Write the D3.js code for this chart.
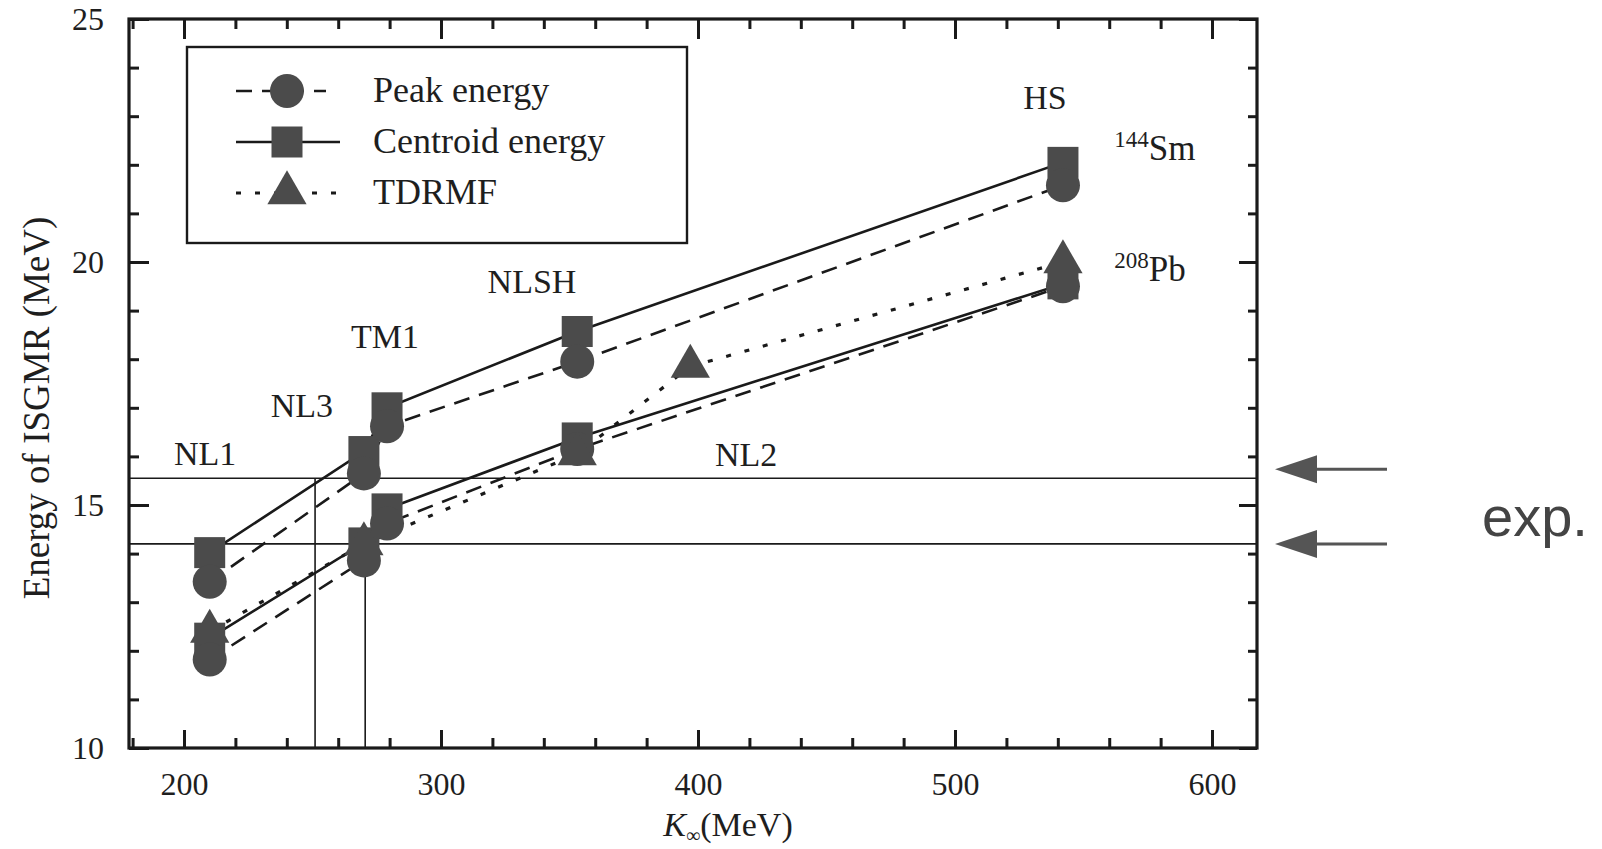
<!DOCTYPE html>
<html>
<head>
<meta charset="utf-8">
<script src="https://cdn.jsdelivr.net/npm/d3@7"></script>
<style>
  body { margin: 0; background: #fff; }
  text { font-family: "Liberation Serif", "DejaVu Serif", serif; fill: #1e1e1e; }
</style>
</head>
<body>
<div id="chart"></div>
<script>
// Incompressibility K (MeV) of the parameter sets
var models = ["NL1", "NL3", "TM1", "NLSH", "HS"];
var modelK = [210, 270, 279, 353, 542];

// 144Sm energies (MeV)
var smCentroid = [14.02, 16.1, 17.0, 18.57, 22.05];
var smPeak = [13.42, 15.65, 16.62, 17.95, 21.58];

// 208Pb energies (MeV)
var pbCentroid = [12.26, 14.22, 14.92, 16.38, 19.55];
var pbPeak = [11.82, 13.86, 14.62, 16.15, 19.5];

// TDRMF results for 208Pb
var tdModels = ["NL1", "NL3", "NLSH", "NL2", "HS"];
var tdK = [210, 270, 353, 397, 542];
var tdEnergy = [12.4, 14.2, 16.05, 17.85, 20.0];

// Experimental energies and the K where the centroid lines meet them
var expEnergy = [15.55, 14.2];
var expK = [251, 270.5];

// Tick values
var xMajor = [200, 300, 400, 500, 600];
var yMajor = [10, 15, 20, 25];

// SVG size
var svgWidth = 1602;
var svgHeight = 849;

// Plot frame
var frame = { left: 129, right: 1257, top: 19, bottom: 748 };

var svg = d3.select("#chart")
  .append("svg")
  .attr("width", svgWidth)
  .attr("height", svgHeight);

// Scales
var x = d3.scaleLinear().domain([178.6, 617.5]).range([frame.left, frame.right]);
var y = d3.scaleLinear().domain([10, 25]).range([frame.bottom, frame.top]);

var xMinor = d3.range(180, 620, 20).filter(v => xMajor.indexOf(v) < 0);
var yMinor = d3.range(10, 26, 1).filter(v => yMajor.indexOf(v) < 0);

var ink = "#1a1a1a";
var markFill = "#4b4b4b";

// Axes with inward ticks on all four sides
function styleAxis(g) {
  g.select(".domain").remove();
  g.selectAll("line").attr("stroke", ink).attr("stroke-width", 3);
  g.selectAll("text")
    .style("font-family", "'Liberation Serif', serif")
    .style("font-size", "32px")
    .attr("fill", ink);
}

svg.append("g")
  .attr("transform", `translate(0, ${frame.bottom})`)
  .call(d3.axisBottom(x).tickValues(xMajor).tickSize(-18).tickPadding(24))
  .call(styleAxis);
svg.append("g")
  .attr("transform", `translate(0, ${frame.bottom})`)
  .call(d3.axisBottom(x).tickValues(xMinor).tickSize(-10).tickFormat(""))
  .call(styleAxis);
svg.append("g")
  .attr("transform", `translate(0, ${frame.top})`)
  .call(d3.axisTop(x).tickValues(xMajor).tickSize(-20).tickFormat(""))
  .call(styleAxis);
svg.append("g")
  .attr("transform", `translate(0, ${frame.top})`)
  .call(d3.axisTop(x).tickValues(xMinor).tickSize(-10).tickFormat(""))
  .call(styleAxis);

svg.append("g")
  .attr("transform", `translate(${frame.left}, 0)`)
  .call(d3.axisLeft(y).tickValues(yMajor).tickSize(-20).tickPadding(25))
  .call(styleAxis);
svg.append("g")
  .attr("transform", `translate(${frame.left}, 0)`)
  .call(d3.axisLeft(y).tickValues(yMinor).tickSize(-10).tickFormat(""))
  .call(styleAxis);
svg.append("g")
  .attr("transform", `translate(${frame.right}, 0)`)
  .call(d3.axisRight(y).tickValues(yMajor).tickSize(-18).tickFormat(""))
  .call(styleAxis);
svg.append("g")
  .attr("transform", `translate(${frame.right}, 0)`)
  .call(d3.axisRight(y).tickValues(yMinor).tickSize(-9).tickFormat(""))
  .call(styleAxis);

// Experimental reference lines
expEnergy.forEach((e, i) => {
  svg.append("line")
    .attr("x1", frame.left).attr("x2", frame.right)
    .attr("y1", y(e)).attr("y2", y(e))
    .attr("stroke", ink).attr("stroke-width", 1.6);
  svg.append("line")
    .attr("x1", x(expK[i])).attr("x2", x(expK[i]))
    .attr("y1", y(e)).attr("y2", frame.bottom)
    .attr("stroke", ink).attr("stroke-width", 1.6);
});

// Frame
svg.append("rect")
  .attr("x", frame.left).attr("y", frame.top)
  .attr("width", frame.right - frame.left)
  .attr("height", frame.bottom - frame.top)
  .attr("fill", "none").attr("stroke", ink).attr("stroke-width", 3.2);

// Line styles
var styles = {
  centroid: { dash: null, symbol: d3.symbolSquare, size: 961 },
  peak: { dash: "16,10", symbol: d3.symbolCircle, size: 908 },
  tdrmf: { dash: "5,14", symbol: d3.symbolTriangle, size: 667 }
};

var series = [
  { kind: "centroid", k: modelK, e: smCentroid },
  { kind: "peak", k: modelK, e: smPeak },
  { kind: "centroid", k: modelK, e: pbCentroid },
  { kind: "peak", k: modelK, e: pbPeak },
  { kind: "tdrmf", k: tdK, e: tdEnergy }
];

var line = d3.line().x(d => x(d[0])).y(d => y(d[1]));

series.forEach(s => {
  var pts = s.k.map((k, i) => [k, s.e[i]]);
  svg.append("path")
    .datum(pts)
    .attr("d", line)
    .attr("fill", "none")
    .attr("stroke", ink)
    .attr("stroke-width", s.kind === "tdrmf" ? 3.2 : 2.6)
    .attr("stroke-dasharray", styles[s.kind].dash);
});

series.forEach(s => {
  var pts = s.k.map((k, i) => [k, s.e[i]]);
  svg.append("g").selectAll("path")
    .data(pts)
    .enter()
    .append("path")
    .attr("transform", d => `translate(${x(d[0])}, ${y(d[1])})`)
    .attr("d", d3.symbol().type(styles[s.kind].symbol).size(styles[s.kind].size))
    .attr("fill", markFill);
});

// Model labels
var labelFont = "34px";
var labelSpots = [
  { t: "NL1", k: 208.2, e: 15.82 },
  { t: "NL3", k: 245.9, e: 16.81 },
  { t: "TM1", k: 278.2, e: 18.23 },
  { t: "NLSH", k: 335.4, e: 19.36 },
  { t: "HS", k: 535, e: 23.15 },
  { t: "NL2", k: 418.7, e: 15.81 }
];
svg.append("g").selectAll("text")
  .data(labelSpots)
  .enter()
  .append("text")
  .attr("x", d => x(d.k))
  .attr("y", d => y(d.e))
  .attr("text-anchor", "middle")
  .style("font-size", labelFont)
  .text(d => d.t);

// Nucleus labels
function nucleus(mass, name, e) {
  var t = svg.append("text")
    .attr("x", x(562))
    .attr("y", y(e))
    .style("font-size", "35px");
  t.append("tspan").attr("dy", -13).style("font-size", "23px").text(mass);
  t.append("tspan").attr("dy", 13).text(name);
}
nucleus("144", "Sm", 22.1);
nucleus("208", "Pb", 19.6);

// Legend
var legend = svg.append("g");
legend.append("rect")
  .attr("x", 187).attr("y", 47)
  .attr("width", 500).attr("height", 196)
  .attr("fill", "#fff").attr("stroke", ink).attr("stroke-width", 2.4);

var legendRows = [
  { kind: "peak", label: "Peak energy" },
  { kind: "centroid", label: "Centroid energy" },
  { kind: "tdrmf", label: "TDRMF" }
];
legendRows.forEach((r, i) => {
  var cy = 91 + i * 51;
  legend.append("line")
    .attr("x1", 236).attr("x2", r.kind === "peak" ? 326 : 340)
    .attr("y1", cy).attr("y2", cy)
    .attr("stroke", ink)
    .attr("stroke-width", r.kind === "tdrmf" ? 3.2 : 2.6)
    .attr("stroke-dasharray", styles[r.kind].dash);
  legend.append("path")
    .attr("transform", `translate(287, ${cy})`)
    .attr("d", d3.symbol().type(styles[r.kind].symbol).size(styles[r.kind].size))
    .attr("fill", markFill);
  legend.append("text")
    .attr("x", 373).attr("y", cy + 11)
    .style("font-size", "36px")
    .text(r.label);
});

// Axis titles
svg.append("text")
  .attr("transform", "translate(49, 408) rotate(-90)")
  .attr("text-anchor", "middle")
  .style("font-size", "37px")
  .text("Energy of ISGMR (MeV)");

var xTitle = svg.append("text")
  .attr("x", 728).attr("y", 836)
  .attr("text-anchor", "middle")
  .style("font-size", "34px");
xTitle.append("tspan").style("font-style", "italic").text("K");
xTitle.append("tspan").attr("dy", 6).style("font-size", "20px").text("∞");
xTitle.append("tspan").attr("dy", -6).text("(MeV)");

// Arrows pointing at the experimental values
var arrowColor = "#555";
var arrowShift = [-9, 0];
expEnergy.forEach((e, i) => {
  var ay = y(e) + arrowShift[i];
  svg.append("line")
    .attr("x1", 1310).attr("x2", 1387)
    .attr("y1", ay).attr("y2", ay)
    .attr("stroke", arrowColor).attr("stroke-width", 3);
  svg.append("path")
    .attr("d", `M1275,${ay} L1317,${ay - 14} L1317,${ay + 14} Z`)
    .attr("fill", arrowColor);
});
svg.append("text")
  .attr("x", 1482).attr("y", 536)
  .style("font-family", "'Liberation Sans', Arial, sans-serif")
  .style("font-size", "56px")
  .style("fill", "#444")
  .text("exp.");
</script>
</body>
</html>
